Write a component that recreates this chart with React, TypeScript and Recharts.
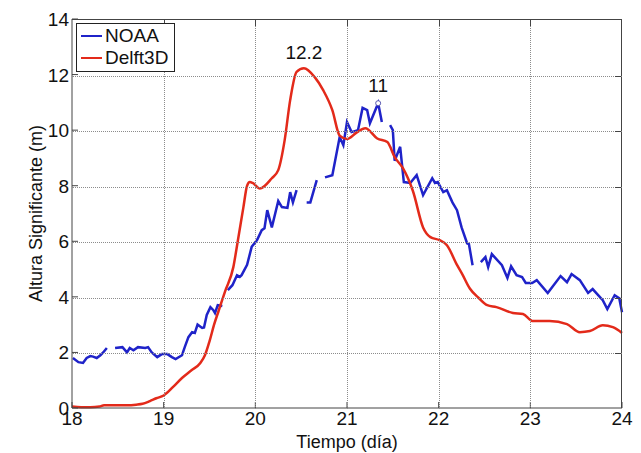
import { LineChart, Line, XAxis, YAxis, ReferenceDot } from "recharts"

// NOAA buoy record (null = missing data)
const noaaTime = [
  18.01, 18.07, 18.12, 18.16, 18.2, 18.23, 18.27, 18.31, 18.34, 18.38,
  18.42,
  18.47, 18.55, 18.6, 18.63, 18.67, 18.72, 18.8, 18.83, 18.87,
  18.93, 18.98, 19.04, 19.09, 19.13, 19.2, 19.23, 19.27, 19.31, 19.34,
  19.37, 19.42, 19.44, 19.47, 19.51, 19.54, 19.56, 19.59, 19.64,
  19.67,
  19.7, 19.75, 19.8, 19.83, 19.85, 19.91, 19.96, 20.02, 20.07, 20.1,
  20.13, 20.18, 20.25, 20.29, 20.35, 20.38, 20.41, 20.45,
  20.49,
  20.56, 20.6, 20.67,
  20.71,
  20.76, 20.84, 20.92, 20.96, 21.0, 21.05, 21.12, 21.17, 21.22, 21.25, 21.34, 21.38,
  21.42,
  21.47, 21.5, 21.52, 21.58, 21.62, 21.69, 21.76, 21.83, 21.93, 21.96,
  21.99, 22.05, 22.09, 22.15, 22.2, 22.25, 22.31, 22.33, 22.37,
  22.41,
  22.46, 22.51, 22.54, 22.58, 22.69, 22.75, 22.79, 22.85, 22.91, 22.95,
  23.02, 23.07, 23.19, 23.33, 23.4, 23.45, 23.54, 23.63, 23.68, 23.79,
  23.84, 23.92, 23.97, 24.0,
]
const noaaHeight = [
  1.8, 1.65, 1.62, 1.8, 1.87, 1.85, 1.8, 1.9, 2.0, 2.16,
  null,
  2.16, 2.19, 2.0, 2.16, 2.08, 2.19, 2.16, 2.19, 2.0,
  1.83, 1.94, 1.94, 1.83, 1.76, 1.9, 2.19, 2.55, 2.73, 2.7,
  3.0, 2.88, 2.9, 3.35, 3.63, 3.53, 3.42, 3.7, 3.67,
  null,
  4.24, 4.42, 4.78, 4.72, 4.78, 5.15, 5.8, 6.05, 6.4, 6.47,
  7.12, 6.5, 7.45, 7.23, 7.2, 7.77, 7.4, 7.84,
  null,
  7.4, 7.4, 8.2,
  null,
  8.3, 8.38, 9.75, 9.46, 10.29, 9.93, 10.0, 10.8, 10.72, 10.25, 10.97, 10.29,
  null,
  10.18, 10.0, 8.9, 9.4, 8.13, 8.1, 8.38, 7.66, 8.27, 8.1,
  8.13, 7.77, 7.84, 7.4, 7.12, 6.5, 5.93, 5.9, 5.14,
  null,
  5.25, 5.43, 5.07, 5.54, 5.14, 4.68, 5.1, 4.78, 4.71, 4.5,
  4.5, 4.6, 4.14, 4.75, 4.53, 4.82, 4.6, 4.14, 4.28, 3.88,
  3.56, 4.06, 3.95, 3.45,
]

// Delft3D model output
const delftTime = [
  18.0, 18.1, 18.2, 18.3, 18.35, 18.5, 18.6, 18.7, 18.77, 18.85, 18.92,
  19.0, 19.1, 19.2, 19.3, 19.4, 19.45, 19.5, 19.55, 19.6,
  19.67, 19.76, 19.81, 19.87, 19.91, 19.94, 19.97,
  20.05, 20.18, 20.25, 20.32, 20.38, 20.45, 20.53, 20.65, 20.74, 20.84, 20.92,
  21.0, 21.1, 21.2, 21.33, 21.44, 21.52, 21.61, 21.72, 21.83, 21.91,
  22.01, 22.09, 22.2, 22.26, 22.34, 22.44, 22.53, 22.63, 22.81, 22.92,
  23.03, 23.21, 23.4, 23.54, 23.65, 23.79, 23.9, 24.0,
]
const delftHeight = [
  0.05, 0.03, 0.03, 0.05, 0.1, 0.1, 0.1, 0.12, 0.15, 0.25, 0.35,
  0.45, 0.75, 1.08, 1.35, 1.62, 1.9, 2.4, 3.0, 3.5,
  4.2, 5.07, 6.04, 7.23, 8.0, 8.13, 8.1,
  7.9, 8.27, 8.56, 9.64, 11.08, 12.1, 12.23, 11.9, 11.44, 10.72, 9.8,
  9.68, 9.9, 10.07, 9.7, 9.57, 9.03, 8.63, 7.8, 6.5, 6.15,
  6.04, 5.86, 5.15, 4.8, 4.3, 3.95, 3.7, 3.63, 3.42, 3.38,
  3.13, 3.13, 3.02, 2.73, 2.77, 2.98, 2.91, 2.7,
]

const dayTicks = [18, 19, 20, 21, 22, 23, 24]
const heightTicks = [0, 2, 4, 6, 8, 10, 12, 14]

// peak annotations
const peakTime = [20.53, 21.34]
const peakHeight = [12.23, 10.97]
const peakLabel = ["12.2", "11"]
const peakMarked = [false, true]

const BLUE = "#1f23c9"
const RED = "#e32a1a"
const AXIS = "#444"
const GRID = "#8c8c8c"
const FONT = "'Liberation Sans', Arial, sans-serif"

// chart box
const W = 641
const H = 453
const M = { top: 19, right: 19, bottom: 0, left: 0 }
const Y_AXIS_W = 72
const X_AXIS_H = 45
const PLOT_W = W - M.left - M.right - Y_AXIS_W
const PLOT_H = H - M.top - M.bottom - X_AXIS_H

const noaaData = noaaTime.map((t, i) => ({ t, v: noaaHeight[i] }))
const delftData = delftTime.map((t, i) => ({ t, v: delftHeight[i] }))

const series = [
  { name: "NOAA", color: BLUE },
  { name: "Delft3D", color: RED },
]

const BottomTick = (props: any) => {
  const { x, y, payload } = props
  return (
    <g>
      <line x1={x} y1={y} x2={x} y2={y - 6} stroke={AXIS} />
      <text x={x} y={y + 17} textAnchor="middle" fontSize={19} fill="#111" fontFamily={FONT}>
        {payload.value}
      </text>
    </g>
  )
}

const LeftTick = (props: any) => {
  const { x, y, payload } = props
  return (
    <g>
      <line x1={x} y1={y} x2={x + 6} y2={y} stroke={AXIS} />
      <text x={x - 3} y={y + 7} textAnchor="end" fontSize={19} fill="#111" fontFamily={FONT}>
        {payload.value}
      </text>
    </g>
  )
}

// dotted grid, box frame and mirrored ticks, laid over the svg
const dayMin = dayTicks[0]
const daySpan = dayTicks[dayTicks.length - 1] - dayMin
const hMax = heightTicks[heightTicks.length - 1]

const GridFrame = () => (
  <div
    style={{
      position: "absolute",
      left: M.left + Y_AXIS_W,
      top: M.top,
      width: PLOT_W,
      height: PLOT_H,
      boxSizing: "border-box",
      borderTop: `1px solid ${AXIS}`,
      borderRight: `1px solid ${AXIS}`,
      pointerEvents: "none",
      zIndex: 1,
    }}
  >
    {dayTicks.slice(1, -1).map((d) => {
      const left = Math.round(((d - dayMin) / daySpan) * PLOT_W)
      return (
        <div key={"v" + d}>
          <div style={{ position: "absolute", left, top: 0, height: PLOT_H, borderLeft: `1px dotted ${GRID}` }} />
          <div style={{ position: "absolute", left, top: 0, height: 6, borderLeft: `1px solid ${AXIS}` }} />
        </div>
      )
    })}
    {heightTicks.slice(1, -1).map((h) => {
      const top = Math.round((1 - h / hMax) * PLOT_H)
      return (
        <div key={"h" + h}>
          <div style={{ position: "absolute", top, left: 0, width: PLOT_W, borderTop: `1px dotted ${GRID}` }} />
          <div style={{ position: "absolute", top, right: 0, width: 6, borderTop: `1px solid ${AXIS}` }} />
        </div>
      )
    })}
  </div>
)

const LegendBox = () => (
  <div
    style={{
      position: "absolute",
      left: 76,
      top: 23,
      border: "1px solid #222",
      background: "#fff",
      padding: "1px 6px 2px 4px",
      fontFamily: FONT,
      fontSize: 19,
      lineHeight: "22px",
      color: "#111",
      zIndex: 2,
    }}
  >
    {series.map((s) => (
      <div key={s.name} style={{ display: "flex", alignItems: "center" }}>
        <span style={{ display: "inline-block", width: 21, height: 2, background: s.color, marginRight: 3 }} />
        <span>{s.name}</span>
      </div>
    ))}
  </div>
)

export default function App() {
  return (
    <div style={{ position: "absolute", left: 0, top: 0, width: W, height: H, background: "#fff" }}>
      <div style={{ position: "absolute", left: 0, top: 0 }}>
        <LineChart width={W} height={H} margin={M}>
          <XAxis
            xAxisId="b"
            dataKey="t"
            type="number"
            domain={[18, 24]}
            ticks={dayTicks}
            height={X_AXIS_H}
            tickSize={0}
            tickMargin={0}
            stroke={AXIS}
            tick={<BottomTick />}
            allowDuplicatedCategory={false}
            label={{ value: "Tiempo (día)", position: "insideBottom", offset: 5, fontSize: 18, fill: "#111", fontFamily: FONT }}
          />
          <YAxis
            yAxisId="l"
            type="number"
            domain={[0, 14]}
            ticks={heightTicks}
            width={Y_AXIS_W}
            tickSize={0}
            tickMargin={0}
            stroke={AXIS}
            tick={<LeftTick />}
            label={{ value: "Altura Significante (m)", angle: -90, position: "insideLeft", offset: 36, fontSize: 18, fill: "#111", fontFamily: FONT, style: { textAnchor: "middle" } }}
          />
          <Line
            xAxisId="b"
            yAxisId="l"
            name="NOAA"
            data={noaaData}
            dataKey="v"
            type="linear"
            stroke={BLUE}
            strokeWidth={2.5}
            dot={false}
            connectNulls={false}
            isAnimationActive={false}
          />
          <Line
            xAxisId="b"
            yAxisId="l"
            name="Delft3D"
            data={delftData}
            dataKey="v"
            type="monotone"
            stroke={RED}
            strokeWidth={2.5}
            dot={false}
            isAnimationActive={false}
          />
          {peakTime.map((t, i) => (
            <ReferenceDot
              key={peakLabel[i]}
              xAxisId="b"
              yAxisId="l"
              x={t}
              y={peakHeight[i]}
              r={peakMarked[i] ? 2.5 : 0}
              fill="#fff"
              stroke={peakMarked[i] ? "#5a5ab0" : "none"}
              label={{ value: peakLabel[i], position: "top", offset: 9, fontSize: 19, fill: "#111", fontFamily: FONT }}
            />
          ))}
        </LineChart>
      </div>
      <GridFrame />
      <LegendBox />
    </div>
  )
}
